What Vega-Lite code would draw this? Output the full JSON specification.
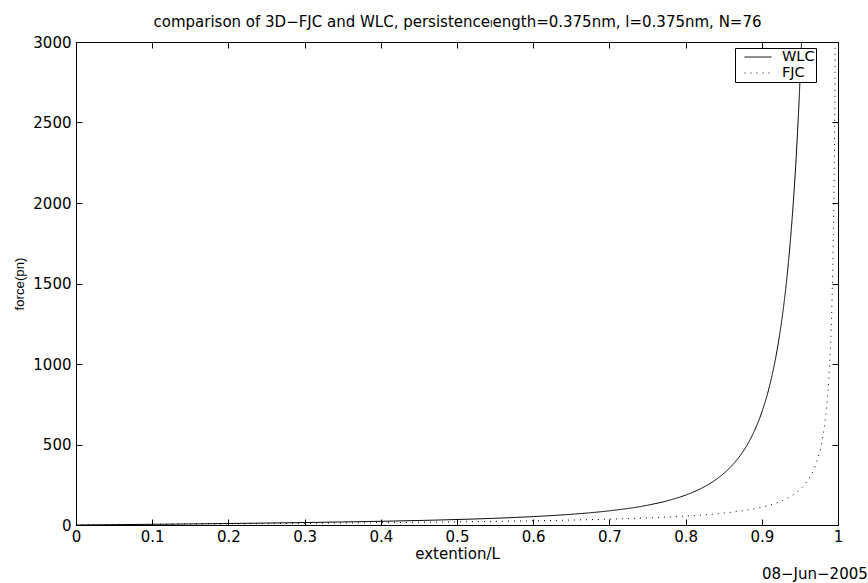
{
  "$schema": "https://vega.github.io/schema/vega-lite/v6.json",
  "autosize": "none",
  "width": 762,
  "height": 483,
  "padding": {"left": 76, "top": 42, "right": 30, "bottom": 58},
  "background": "white",
  "title": {"text": "08−Jun−2005", "orient": "bottom", "anchor": "end", "dx": 25, "offset": 6, "font": "DejaVu Sans", "fontSize": 15, "fontWeight": "normal", "color": "black"},
  "data": {"values": [
    {"x": 0, "force": 0, "model": "WLC"},
    {"x": 0.05, "force": 2.1, "model": "WLC"},
    {"x": 0.1, "force": 4.33, "model": "WLC"},
    {"x": 0.15, "force": 6.72, "model": "WLC"},
    {"x": 0.2, "force": 9.3, "model": "WLC"},
    {"x": 0.25, "force": 12.13, "model": "WLC"},
    {"x": 0.3, "force": 15.29, "model": "WLC"},
    {"x": 0.35, "force": 18.88, "model": "WLC"},
    {"x": 0.4, "force": 23.05, "model": "WLC"},
    {"x": 0.45, "force": 28.02, "model": "WLC"},
    {"x": 0.5, "force": 34.13, "model": "WLC"},
    {"x": 0.55, "force": 41.89, "model": "WLC"},
    {"x": 0.6, "force": 52.21, "model": "WLC"},
    {"x": 0.65, "force": 66.63, "model": "WLC"},
    {"x": 0.7, "force": 88.12, "model": "WLC"},
    {"x": 0.75, "force": 122.85, "model": "WLC"},
    {"x": 0.78, "force": 155.5, "model": "WLC"},
    {"x": 0.8, "force": 185.6, "model": "WLC"},
    {"x": 0.82, "force": 226.2, "model": "WLC"},
    {"x": 0.84, "force": 282.7, "model": "WLC"},
    {"x": 0.86, "force": 364.9, "model": "WLC"},
    {"x": 0.87, "force": 420.8, "model": "WLC"},
    {"x": 0.88, "force": 491.2, "model": "WLC"},
    {"x": 0.89, "force": 581.5, "model": "WLC"},
    {"x": 0.9, "force": 700.2, "model": "WLC"},
    {"x": 0.91, "force": 860.6, "model": "WLC"},
    {"x": 0.92, "force": 1084.7, "model": "WLC"},
    {"x": 0.925, "force": 1231.8, "model": "WLC"},
    {"x": 0.93, "force": 1411.4, "model": "WLC"},
    {"x": 0.935, "force": 1634.1, "model": "WLC"},
    {"x": 0.94, "force": 1914.7, "model": "WLC"},
    {"x": 0.945, "force": 2275.2, "model": "WLC"},
    {"x": 0.95, "force": 2749.1, "model": "WLC"},
    {"x": 0.955, "force": 3389.6, "model": "WLC"},
    {"x": 0.96, "force": 4285, "model": "WLC"},
    {"x": 0, "force": 0, "model": "FJC"},
    {"x": 0.05, "force": 1.64, "model": "FJC"},
    {"x": 0.1, "force": 3.3, "model": "FJC"},
    {"x": 0.15, "force": 4.99, "model": "FJC"},
    {"x": 0.2, "force": 6.72, "model": "FJC"},
    {"x": 0.25, "force": 8.51, "model": "FJC"},
    {"x": 0.3, "force": 10.38, "model": "FJC"},
    {"x": 0.35, "force": 12.37, "model": "FJC"},
    {"x": 0.4, "force": 14.52, "model": "FJC"},
    {"x": 0.45, "force": 16.87, "model": "FJC"},
    {"x": 0.5, "force": 19.52, "model": "FJC"},
    {"x": 0.55, "force": 22.56, "model": "FJC"},
    {"x": 0.6, "force": 26.17, "model": "FJC"},
    {"x": 0.65, "force": 30.61, "model": "FJC"},
    {"x": 0.7, "force": 36.3, "model": "FJC"},
    {"x": 0.75, "force": 44.04, "model": "FJC"},
    {"x": 0.8, "force": 55.38, "model": "FJC"},
    {"x": 0.82, "force": 61.6, "model": "FJC"},
    {"x": 0.84, "force": 69.34, "model": "FJC"},
    {"x": 0.86, "force": 79.24, "model": "FJC"},
    {"x": 0.88, "force": 92.39, "model": "FJC"},
    {"x": 0.9, "force": 110.7, "model": "FJC"},
    {"x": 0.91, "force": 122.9, "model": "FJC"},
    {"x": 0.92, "force": 138.2, "model": "FJC"},
    {"x": 0.93, "force": 157.8, "model": "FJC"},
    {"x": 0.94, "force": 183.8, "model": "FJC"},
    {"x": 0.95, "force": 220.3, "model": "FJC"},
    {"x": 0.955, "force": 244.6, "model": "FJC"},
    {"x": 0.96, "force": 275.0, "model": "FJC"},
    {"x": 0.965, "force": 312.0, "model": "FJC"},
    {"x": 0.97, "force": 366.0, "model": "FJC"},
    {"x": 0.975, "force": 438.0, "model": "FJC"},
    {"x": 0.98, "force": 546.5, "model": "FJC"},
    {"x": 0.984, "force": 683.0, "model": "FJC"},
    {"x": 0.988, "force": 911.0, "model": "FJC"},
    {"x": 0.99, "force": 1093.0, "model": "FJC"},
    {"x": 0.992, "force": 1366.0, "model": "FJC"},
    {"x": 0.994, "force": 1822.0, "model": "FJC"},
    {"x": 0.995, "force": 2186.0, "model": "FJC"},
    {"x": 0.996, "force": 2733.0, "model": "FJC"},
    {"x": 0.997, "force": 3643.0, "model": "FJC"},
    {"x": 0.998, "force": 5465.0, "model": "FJC"}
  ]},
  "resolve": {"axis": {"x": "independent", "y": "independent"}},
  "layer": [
    {
      "mark": {"type": "line", "clip": true, "strokeWidth": 1, "color": "black", "interpolate": "monotone"},
      "encoding": {
        "x": {"field": "x", "type": "quantitative", "scale": {"domain": [0, 1], "nice": false, "zero": false},
          "axis": {"orient": "bottom", "values": [0, 0.1, 0.2, 0.3, 0.4, 0.5, 0.6, 0.7, 0.8, 0.9, 1], "format": "~g", "title": "extention/L", "tickSize": -6, "labelPadding": 10, "titlePadding": 2}},
        "y": {"field": "force", "type": "quantitative", "scale": {"domain": [0, 3000], "nice": false},
          "axis": {"orient": "left", "values": [0, 500, 1000, 1500, 2000, 2500, 3000], "format": "d", "title": "force(pn)", "tickSize": -6, "labelPadding": 11, "titlePadding": 6, "titleFont": "Liberation Sans", "titleFontSize": 13.2}},
        "strokeDash": {"field": "model", "type": "nominal", "scale": {"domain": ["WLC", "FJC"], "range": [[1, 0], [1, 5]]},
          "legend": {"title": null, "orient": "none", "legendX": 659, "legendY": 6}},
        "detail": {"field": "model"}
      }
    },
    {
      "mark": {"type": "line", "clip": true, "strokeOpacity": 0},
      "encoding": {
        "x": {"field": "x", "type": "quantitative", "axis": {"orient": "top", "values": [0, 0.1, 0.2, 0.3, 0.4, 0.5, 0.6, 0.7, 0.8, 0.9, 1], "labels": false, "tickSize": -6, "domain": false, "title": "comparison of 3D−FJC and WLC, persistenceₗength=0.375nm, l=0.375nm, N=76", "titlePadding": 12}},
        "y": {"field": "force", "type": "quantitative", "axis": {"orient": "right", "values": [0, 500, 1000, 1500, 2000, 2500, 3000], "labels": false, "tickSize": -6, "domain": false, "title": null}},
        "detail": {"field": "model"}
      }
    }
  ],
  "config": {
    "font": "DejaVu Sans",
    "view": {"stroke": "black", "strokeWidth": 1},
    "axis": {
      "grid": false, "domainColor": "black", "domainWidth": 1, "tickColor": "black", "tickWidth": 1,
      "labelFont": "DejaVu Sans", "labelFontSize": 15, "labelColor": "black", "labelFlush": false, "labelOverlap": false,
      "titleFont": "DejaVu Sans", "titleFontSize": 15, "titleFontWeight": "normal", "titleColor": "black"
    },
    "legend": {
      "fillColor": "white", "strokeColor": "black", "padding": 1, "symbolType": "M-1,0H1", "symbolSize": 729,
      "symbolStrokeColor": "black", "symbolStrokeWidth": 1, "symbolOffset": 8, "labelOffset": 10, "clipHeight": 16,
      "labelFont": "DejaVu Sans", "labelFontSize": 14.5, "labelColor": "black", "rowPadding": 0
    }
  }
}
